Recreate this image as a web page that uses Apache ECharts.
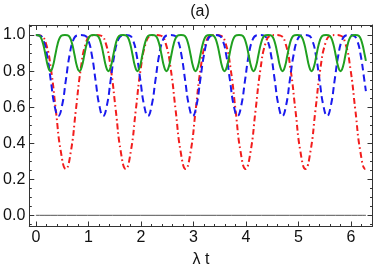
<!DOCTYPE html>
<html><head><meta charset="utf-8">
<script src="https://cdn.jsdelivr.net/npm/echarts@6/dist/echarts.min.js"></script>
<style>html,body{margin:0;padding:0;background:#fff}#c{width:374px;height:273px}</style>
</head><body><div id="c"></div>
<script>
// ---- data ----
const redT = [0,0.095,0.190,0.285,0.380,0.475,0.570,0.665,0.760,0.855,0.950,1.046,
1.141,1.236,1.331,1.426,1.521,1.616,1.711,1.806,1.901,1.996,2.091,2.186,
2.281,2.376,2.471,2.566,2.661,2.756,2.851,2.946,3.041,3.136,3.231,3.327,
3.422,3.517,3.612,3.707,3.802,3.897,3.992,4.087,4.182,4.277,4.372,4.467,
4.562,4.657,4.752,4.847,4.942,5.037,5.132,5.227,5.322,5.417,5.512,5.608,
5.703,5.798,5.893,5.988,6.083,6.178,6.273,6.283];
const redY = [1,0.997,0.954,0.814,0.582,0.353,0.257,0.353,0.582,0.814,0.954,0.997,
1,0.997,0.954,0.814,0.582,0.353,0.257,0.353,0.582,0.814,0.954,0.997,
1,0.997,0.954,0.814,0.582,0.353,0.257,0.353,0.582,0.814,0.954,0.997,
1,0.997,0.954,0.814,0.582,0.353,0.257,0.353,0.582,0.814,0.954,0.997,
1,0.997,0.954,0.814,0.582,0.353,0.257,0.353,0.582,0.814,0.954,0.997,
1,0.997,0.954,0.814,0.582,0.353,0.257,0.258];

const blueT = [0,0.071,0.142,0.213,0.284,0.355,0.427,0.498,0.569,0.640,0.711,0.782,
0.853,0.924,0.995,1.066,1.137,1.208,1.280,1.351,1.422,1.493,1.564,1.635,
1.706,1.777,1.848,1.919,1.990,2.061,2.133,2.204,2.275,2.346,2.417,2.488,
2.559,2.630,2.701,2.772,2.843,2.914,2.986,3.057,3.128,3.199,3.270,3.341,
3.412,3.483,3.554,3.625,3.696,3.767,3.839,3.910,3.981,4.052,4.123,4.194,
4.265,4.336,4.407,4.478,4.549,4.620,4.692,4.763,4.834,4.905,4.976,5.047,
5.118,5.189,5.260,5.331,5.402,5.473,5.545,5.616,5.687,5.758,5.829,5.900,
5.971,6.042,6.113,6.184,6.255,6.283];
const blueY = [1,0.998,0.972,0.888,0.747,0.609,0.551,0.609,0.747,0.888,0.972,0.998,
1,0.998,0.972,0.888,0.747,0.609,0.551,0.609,0.747,0.888,0.972,0.998,
1,0.998,0.972,0.888,0.747,0.609,0.551,0.609,0.747,0.888,0.972,0.998,
1,0.998,0.972,0.888,0.747,0.609,0.551,0.609,0.747,0.888,0.972,0.998,
1,0.998,0.972,0.888,0.747,0.609,0.551,0.609,0.747,0.888,0.972,0.998,
1,0.998,0.972,0.888,0.747,0.609,0.551,0.609,0.747,0.888,0.972,0.998,
1,0.998,0.972,0.888,0.747,0.609,0.551,0.609,0.747,0.888,0.972,0.998,
1,0.998,0.972,0.888,0.747,0.689];

const greenT = [0,0.046,0.092,0.138,0.184,0.230,0.276,0.322,0.368,0.414,0.460,0.507,
0.553,0.599,0.645,0.691,0.737,0.783,0.829,0.875,0.921,0.967,1.013,1.059,
1.105,1.151,1.197,1.243,1.289,1.335,1.381,1.427,1.473,1.519,1.565,1.612,
1.658,1.704,1.750,1.796,1.842,1.888,1.934,1.980,2.026,2.072,2.118,2.164,
2.210,2.256,2.302,2.348,2.394,2.440,2.486,2.532,2.578,2.624,2.670,2.717,
2.763,2.809,2.855,2.901,2.947,2.993,3.039,3.085,3.131,3.177,3.223,3.269,
3.315,3.361,3.407,3.453,3.499,3.545,3.591,3.637,3.683,3.729,3.775,3.822,
3.868,3.914,3.960,4.006,4.052,4.098,4.144,4.190,4.236,4.282,4.328,4.374,
4.420,4.466,4.512,4.558,4.604,4.650,4.696,4.742,4.788,4.834,4.880,4.927,
4.973,5.019,5.065,5.111,5.157,5.203,5.249,5.295,5.341,5.387,5.433,5.479,
5.525,5.571,5.617,5.663,5.709,5.755,5.801,5.847,5.893,5.939,5.985,6.032,
6.078,6.124,6.170,6.216,6.262,6.283];
const greenY = [1,0.999,0.988,0.95,0.888,0.826,0.8,0.826,0.888,0.95,0.988,0.999,
1,0.999,0.988,0.95,0.888,0.826,0.8,0.826,0.888,0.95,0.988,0.999,
1,0.999,0.988,0.95,0.888,0.826,0.8,0.826,0.888,0.95,0.988,0.999,
1,0.999,0.988,0.95,0.888,0.826,0.8,0.826,0.888,0.95,0.988,0.999,
1,0.999,0.988,0.95,0.888,0.826,0.8,0.826,0.888,0.95,0.988,0.999,
1,0.999,0.988,0.95,0.888,0.826,0.8,0.826,0.888,0.95,0.988,0.999,
1,0.999,0.988,0.95,0.888,0.826,0.8,0.826,0.888,0.95,0.988,0.999,
1,0.999,0.988,0.95,0.888,0.826,0.8,0.826,0.888,0.95,0.988,0.999,
1,0.999,0.988,0.95,0.888,0.826,0.8,0.826,0.888,0.95,0.988,0.999,
1,0.999,0.988,0.95,0.888,0.826,0.8,0.826,0.888,0.95,0.988,0.999,
1,0.999,0.988,0.95,0.888,0.826,0.8,0.826,0.888,0.95,0.988,0.999,
1,0.999,0.988,0.95,0.888,0.857];

const zeroT = [0, 6.283];
const zeroY = [0, 0];

const xTicks = [0,1,2,3,4,5,6];
const xTickLabels = ['0','1','2','3','4','5','6'];
const yTicks = [0,0.2,0.4,0.6,0.8,1.0];
const yTickLabels = ['0.0','0.2','0.4','0.6','0.8','1.0'];
const xMinorTicks = [];
for (let i = 1; i <= 32; i++) { if (i % 5 !== 0) xMinorTicks.push(+(i * 0.2).toFixed(2)); }
const yMinorTicks = [-0.05];
for (let i = 1; i <= 21; i++) { if (i % 4 !== 0) yMinorTicks.push(+(i * 0.05).toFixed(2)); }

const titleText = '(a)';
const xName = 'λ t';

// ---- chart ----
const X_MIN = -0.1257, X_MAX = 6.409, Y_MIN = -0.062, Y_MAX = 1.056;
const FONT = 'Liberation Sans, Arial, sans-serif';
const FRAME = '#333';
const FS = 16;

function lbl(ticks, labels) {
  return function (v) {
    const i = ticks.findIndex(t => Math.abs(t - v) < 1e-6);
    return i >= 0 ? labels[i] : '';
  };
}
function xAx(pos, ticks, len, line, label) {
  return {
    type: 'value', position: pos, min: X_MIN, max: X_MAX,
    axisLine: { show: line, onZero: false, lineStyle: { color: FRAME, width: 1 } },
    axisTick: { show: true, inside: true, length: len, customValues: ticks, lineStyle: { color: FRAME, width: 1 } },
    axisLabel: label ? { show: true, customValues: ticks, formatter: lbl(xTicks, xTickLabels), margin: 3,
      fontSize: FS, color: '#111', fontFamily: FONT } : { show: false },
    splitLine: { show: false }
  };
}
function yAx(pos, ticks, len, line, label) {
  return {
    type: 'value', position: pos, min: Y_MIN, max: Y_MAX,
    axisLine: { show: line, onZero: false, lineStyle: { color: FRAME, width: 1 } },
    axisTick: { show: true, inside: true, length: len, customValues: ticks, lineStyle: { color: FRAME, width: 1 } },
    axisLabel: label ? { show: true, customValues: ticks, formatter: lbl(yTicks, yTickLabels), margin: 4,
      fontSize: FS, color: '#111', fontFamily: FONT } : { show: false },
    splitLine: { show: false }
  };
}
function pairs(T, Y) { return T.map((t, i) => [t, Y[i]]); }
function line(name, T, Y, color, type, width, z) {
  return {
    name: name, type: 'line', xAxisIndex: 0, yAxisIndex: 0, data: pairs(T, Y),
    showSymbol: false, symbol: 'none', smooth: 0.5, animation: false, z: z,
    lineStyle: { color: color, width: width, type: type, cap: 'butt' }
  };
}

const chart = echarts.init(document.getElementById('c'), null, { renderer: 'canvas' });
chart.setOption({
  animation: false,
  backgroundColor: '#fff',
  grid: { left: 29.3, right: 1.5, top: 25, bottom: 46.5, containLabel: false },
  xAxis: [
    xAx('bottom', xTicks, 5, true, true),
    xAx('bottom', xMinorTicks, 2.5, false, false),
    xAx('top', xTicks, 5, true, false),
    xAx('top', xMinorTicks, 2.5, false, false)
  ],
  yAxis: [
    yAx('left', yTicks, 5, true, true),
    yAx('left', yMinorTicks, 2.5, false, false),
    yAx('right', yTicks, 5, true, false),
    yAx('right', yMinorTicks, 2.5, false, false)
  ],
  graphic: [
    { type: 'text', x: 200, y: 12, style: { text: titleText, fontSize: FS, fontFamily: FONT, fill: '#111',
      textAlign: 'center', textVerticalAlign: 'middle' } },
    { type: 'text', x: 201, y: 260, style: { text: xName, fontSize: FS, fontFamily: FONT, fill: '#111',
      textAlign: 'center', textVerticalAlign: 'middle' } }
  ],
  series: [
    line('zero', zeroT, zeroY, '#555', 'solid', 1, 1),
    line('red', redT, redY, '#f21d1d', [6, 3, 1.6, 3], 2, 2),
    line('blue', blueT, blueY, '#1a1aee', [7, 4], 2, 3),
    line('green', greenT, greenY, '#20a020', 'solid', 2, 4)
  ]
});
</script>
</body></html>
